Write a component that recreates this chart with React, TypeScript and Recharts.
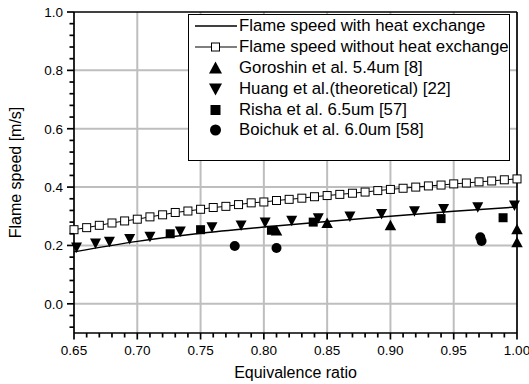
import React from 'react';
import {
  ComposedChart, Line, Scatter, XAxis, YAxis, ReferenceLine, Legend, Label,
} from 'recharts';

const FONT = '"Liberation Sans", Arial, sans-serif';

// axis ticks
const xMajor = [0.65, 0.7, 0.75, 0.8, 0.85, 0.9, 0.95, 1.0];
const xMinor = [
  0.66, 0.67, 0.68, 0.69, 0.71, 0.72, 0.73, 0.74, 0.76, 0.77, 0.78, 0.79,
  0.81, 0.82, 0.83, 0.84, 0.86, 0.87, 0.88, 0.89, 0.91, 0.92, 0.93, 0.94,
  0.96, 0.97, 0.98, 0.99,
];
const yMajor = [0, 0.2, 0.4, 0.6, 0.8, 1.0];
const yMinor = [
  -0.08, -0.04, 0.04, 0.08, 0.12, 0.16, 0.24, 0.28, 0.32, 0.36, 0.44, 0.48,
  0.52, 0.56, 0.64, 0.68, 0.72, 0.76, 0.84, 0.88, 0.92, 0.96,
];
const xGrid = [0.7, 0.75, 0.8, 0.85, 0.9, 0.95];
const yGrid = [0, 0.2, 0.4, 0.6, 0.8];

// flame speed with heat exchange (solid line)
const hxPhi = [0.65, 0.7, 0.75, 0.8, 0.85, 0.9, 0.95, 1.0];
const hxSpeed = [0.178, 0.214, 0.242, 0.263, 0.282, 0.3, 0.317, 0.332];

// flame speed without heat exchange (open squares)
const noHxPhi = [
  0.65, 0.66, 0.67, 0.68, 0.69, 0.7, 0.71, 0.72, 0.73, 0.74, 0.75, 0.76,
  0.77, 0.78, 0.79, 0.8, 0.81, 0.82, 0.83, 0.84, 0.85, 0.86, 0.87, 0.88,
  0.89, 0.9, 0.91, 0.92, 0.93, 0.94, 0.95, 0.96, 0.97, 0.98, 0.99, 1.0,
];
const noHxSpeed = [
  0.254, 0.261, 0.269, 0.277, 0.284, 0.29, 0.298, 0.305, 0.313, 0.318, 0.324, 0.33,
  0.334, 0.34, 0.346, 0.349, 0.354, 0.358, 0.362, 0.367, 0.371, 0.375, 0.379, 0.383,
  0.388, 0.392, 0.396, 0.4, 0.404, 0.407, 0.411, 0.414, 0.418, 0.421, 0.425, 0.428,
];

// Goroshin et al. 5.4um [8]
const goroshinPhi = [0.81, 0.85, 0.9, 1.0, 1.0];
const goroshinSpeed = [0.25, 0.276, 0.268, 0.255, 0.21];

// Huang et al. (theoretical) [22]
const huangPhi = [
  0.652, 0.667, 0.678, 0.694, 0.71, 0.734, 0.759, 0.782, 0.801, 0.822,
  0.843, 0.868, 0.893, 0.919, 0.942, 0.969, 0.998,
];
const huangSpeed = [
  0.194, 0.208, 0.214, 0.223, 0.231, 0.249, 0.263, 0.269, 0.28, 0.286,
  0.294, 0.3, 0.309, 0.318, 0.326, 0.332, 0.338,
];

// Risha et al. 6.5um [57]
const rishaPhi = [0.726, 0.75, 0.806, 0.839, 0.94, 0.989];
const rishaSpeed = [0.24, 0.254, 0.252, 0.28, 0.292, 0.295];

// Boichuk et al. 6.0um [58]
const boichukPhi = [0.777, 0.81, 0.971, 0.972];
const boichukSpeed = [0.198, 0.191, 0.228, 0.215];

const legendLabels = [
  'Flame speed with heat exchange',
  'Flame speed without heat exchange',
  'Goroshin et al. 5.4um [8]',
  'Huang et al.(theoretical) [22]',
  'Risha et al. 6.5um [57]',
  'Boichuk et al. 6.0um [58]',
];

const pts = (xs: number[], ys: number[]) => xs.map((x, i) => ({ x, y: ys[i] }));

const hxData = pts(hxPhi, hxSpeed);
const noHxData = pts(noHxPhi, noHxSpeed);
const goroshinData = pts(goroshinPhi, goroshinSpeed);
const huangData = pts(huangPhi, huangSpeed);
const rishaData = pts(rishaPhi, rishaSpeed);
const boichukData = pts(boichukPhi, boichukSpeed);

const xTicks = [...xMajor, ...xMinor].sort((a, b) => a - b);
const yTicks = [...yMajor, ...yMinor].sort((a, b) => a - b);
const isMajor = (list: number[], v: number) => list.some((m) => Math.abs(m - v) < 1e-6);

const labelStyle = { fontFamily: FONT, fontSize: 13.5, fill: '#000' };
const tickStroke = { stroke: '#000', strokeWidth: 1.7 };

function BottomTick(p: any) {
  const v = p.payload.value;
  const major = isMajor(xMajor, v);
  return (
    <g>
      <line x1={p.x} y1={p.y} x2={p.x} y2={p.y + (major ? 6.5 : 4.5)} {...tickStroke} />
      {major && (
        <text x={p.x} y={p.y + 22} textAnchor="middle" style={labelStyle}>{v.toFixed(2)}</text>
      )}
    </g>
  );
}

function TopTick(p: any) {
  const major = isMajor(xMajor, p.payload.value);
  return <line x1={p.x} y1={p.y} x2={p.x} y2={p.y - (major ? 5 : 3.5)} {...tickStroke} />;
}

function LeftTick(p: any) {
  const v = p.payload.value;
  const major = isMajor(yMajor, v);
  return (
    <g>
      <line x1={p.x} y1={p.y} x2={p.x - (major ? 7 : 4.5)} y2={p.y} {...tickStroke} />
      {major && (
        <text x={p.x - 11} y={p.y + 4.8} textAnchor="end" style={labelStyle}>{v.toFixed(1)}</text>
      )}
    </g>
  );
}

function RightTick(p: any) {
  const major = isMajor(yMajor, p.payload.value);
  return <line x1={p.x} y1={p.y} x2={p.x + (major ? 5 : 3.5)} y2={p.y} {...tickStroke} />;
}

const triUp = (cx: number, cy: number, w: number, h: number) =>
  `${cx},${cy - h * 0.55} ${cx + w / 2},${cy + h * 0.45} ${cx - w / 2},${cy + h * 0.45}`;
const triDown = (cx: number, cy: number, w: number, h: number) =>
  `${cx},${cy + h * 0.55} ${cx + w / 2},${cy - h * 0.45} ${cx - w / 2},${cy - h * 0.45}`;

const UpShape = (p: any) => <polygon points={triUp(p.cx, p.cy, 11.5, 10.5)} fill="#000" />;
const DownShape = (p: any) => <polygon points={triDown(p.cx, p.cy, 11, 10.5)} fill="#000" />;
const SquareShape = (p: any) => <rect x={p.cx - 4.5} y={p.cy - 4.5} width={9} height={9} fill="#000" />;
const CircleShape = (p: any) => <circle cx={p.cx} cy={p.cy} r={5} fill="#000" />;
const OpenSquareDot = (p: any) => (
  <rect key={`sq-${p.index}`} x={p.cx - 4} y={p.cy - 4} width={8} height={8} fill="#fff" stroke="#000" strokeWidth={1} />
);

function legendIcon(i: number) {
  const cx = 26.5;
  const cy = 10;
  if (i === 0) return <line x1={6} y1={cy} x2={48} y2={cy} stroke="#000" strokeWidth={1.5} />;
  if (i === 1) {
    return (
      <g>
        <line x1={6} y1={cy} x2={48} y2={cy} stroke="#000" strokeWidth={1.2} />
        <rect x={cx - 4} y={cy - 4} width={8} height={8} fill="#fff" stroke="#000" />
      </g>
    );
  }
  if (i === 2) return <polygon points={triUp(cx, cy, 13, 12)} fill="#000" />;
  if (i === 3) return <polygon points={triDown(cx, cy, 13, 12)} fill="#000" />;
  if (i === 4) return <rect x={cx - 5} y={cy - 5} width={10} height={10} fill="#000" />;
  return <circle cx={cx} cy={cy} r={5.5} fill="#000" />;
}

function FlameLegend() {
  return (
    <div
      style={{
        boxSizing: 'border-box', width: 322, height: 147, border: '1px solid #000',
        background: '#fff', paddingTop: 1, fontFamily: FONT, fontSize: 16.8, color: '#000',
      }}
    >
      {legendLabels.map((label, i) => (
        <div key={label} style={{ display: 'flex', alignItems: 'center', height: 20.8 }}>
          <svg width={50} height={20} style={{ flex: 'none' }}>{legendIcon(i)}</svg>
          <span style={{ whiteSpace: 'nowrap', lineHeight: '20px' }}>{label}</span>
        </div>
      ))}
    </div>
  );
}

const axisLine = { stroke: '#000', strokeWidth: 1.7 };
const gridStroke = '#bebebe';

export default function App() {
  return (
    <div style={{ position: 'absolute', left: 0, top: 0, background: '#fff' }}>
      <ComposedChart width={529} height={384} margin={{ top: 0, right: 0, bottom: 0, left: 0 }}>
        {xGrid.map((v) => (
          <ReferenceLine key={`gx-${v}`} x={v} stroke={gridStroke} strokeWidth={2} />
        ))}
        {yGrid.map((v) => (
          <ReferenceLine key={`gy-${v}`} y={v} stroke={gridStroke} strokeWidth={2} />
        ))}
        <XAxis
          dataKey="x" type="number" domain={[0.65, 1.0]} ticks={xTicks} interval={0}
          tickSize={0} tickMargin={0} tickLine={false} tick={BottomTick}
          axisLine={axisLine} height={51}
        >
          <Label
            value="Equivalence ratio" position="insideBottom" offset={6}
            style={{ fontFamily: FONT, fontSize: 16, fill: '#000' }}
          />
        </XAxis>
        <XAxis
          xAxisId="top" orientation="top" type="number" domain={[0.65, 1.0]} ticks={xTicks}
          interval={0} tickSize={0} tickMargin={0} tickLine={false} tick={TopTick}
          axisLine={axisLine} height={12}
        />
        <YAxis
          dataKey="y" type="number" domain={[-0.1, 1.0]} ticks={yTicks} interval={0}
          tickSize={0} tickMargin={0} tickLine={false} tick={LeftTick}
          axisLine={axisLine} width={74}
        >
          <Label
            value="Flame speed [m/s]" angle={-90} position="insideLeft" offset={15}
            style={{ fontFamily: FONT, fontSize: 16, fill: '#000', textAnchor: 'middle' }}
          />
        </YAxis>
        <YAxis
          yAxisId="right" orientation="right" type="number" domain={[-0.1, 1.0]} ticks={yTicks}
          interval={0} tickSize={0} tickMargin={0} tickLine={false} tick={RightTick}
          axisLine={axisLine} width={12}
        />
        <Line
          data={noHxData} dataKey="y" type="linear" stroke="#000" strokeWidth={1}
          dot={OpenSquareDot} activeDot={false} isAnimationActive={false} legendType="none"
        />
        <Line
          data={hxData} dataKey="y" type="monotone" stroke="#000" strokeWidth={1.5}
          dot={false} activeDot={false} isAnimationActive={false} legendType="none"
        />
        <Scatter data={huangData} dataKey="y" shape={DownShape} isAnimationActive={false} legendType="none" />
        <Scatter data={rishaData} dataKey="y" shape={SquareShape} isAnimationActive={false} legendType="none" />
        <Scatter data={goroshinData} dataKey="y" shape={UpShape} isAnimationActive={false} legendType="none" />
        <Scatter data={boichukData} dataKey="y" shape={CircleShape} isAnimationActive={false} legendType="none" />
        <Legend
          layout="horizontal" verticalAlign="middle" align="center"
          wrapperStyle={{ left: 188, top: 14, width: 322, height: 147 }}
          content={FlameLegend}
        />
      </ComposedChart>
    </div>
  );
}
